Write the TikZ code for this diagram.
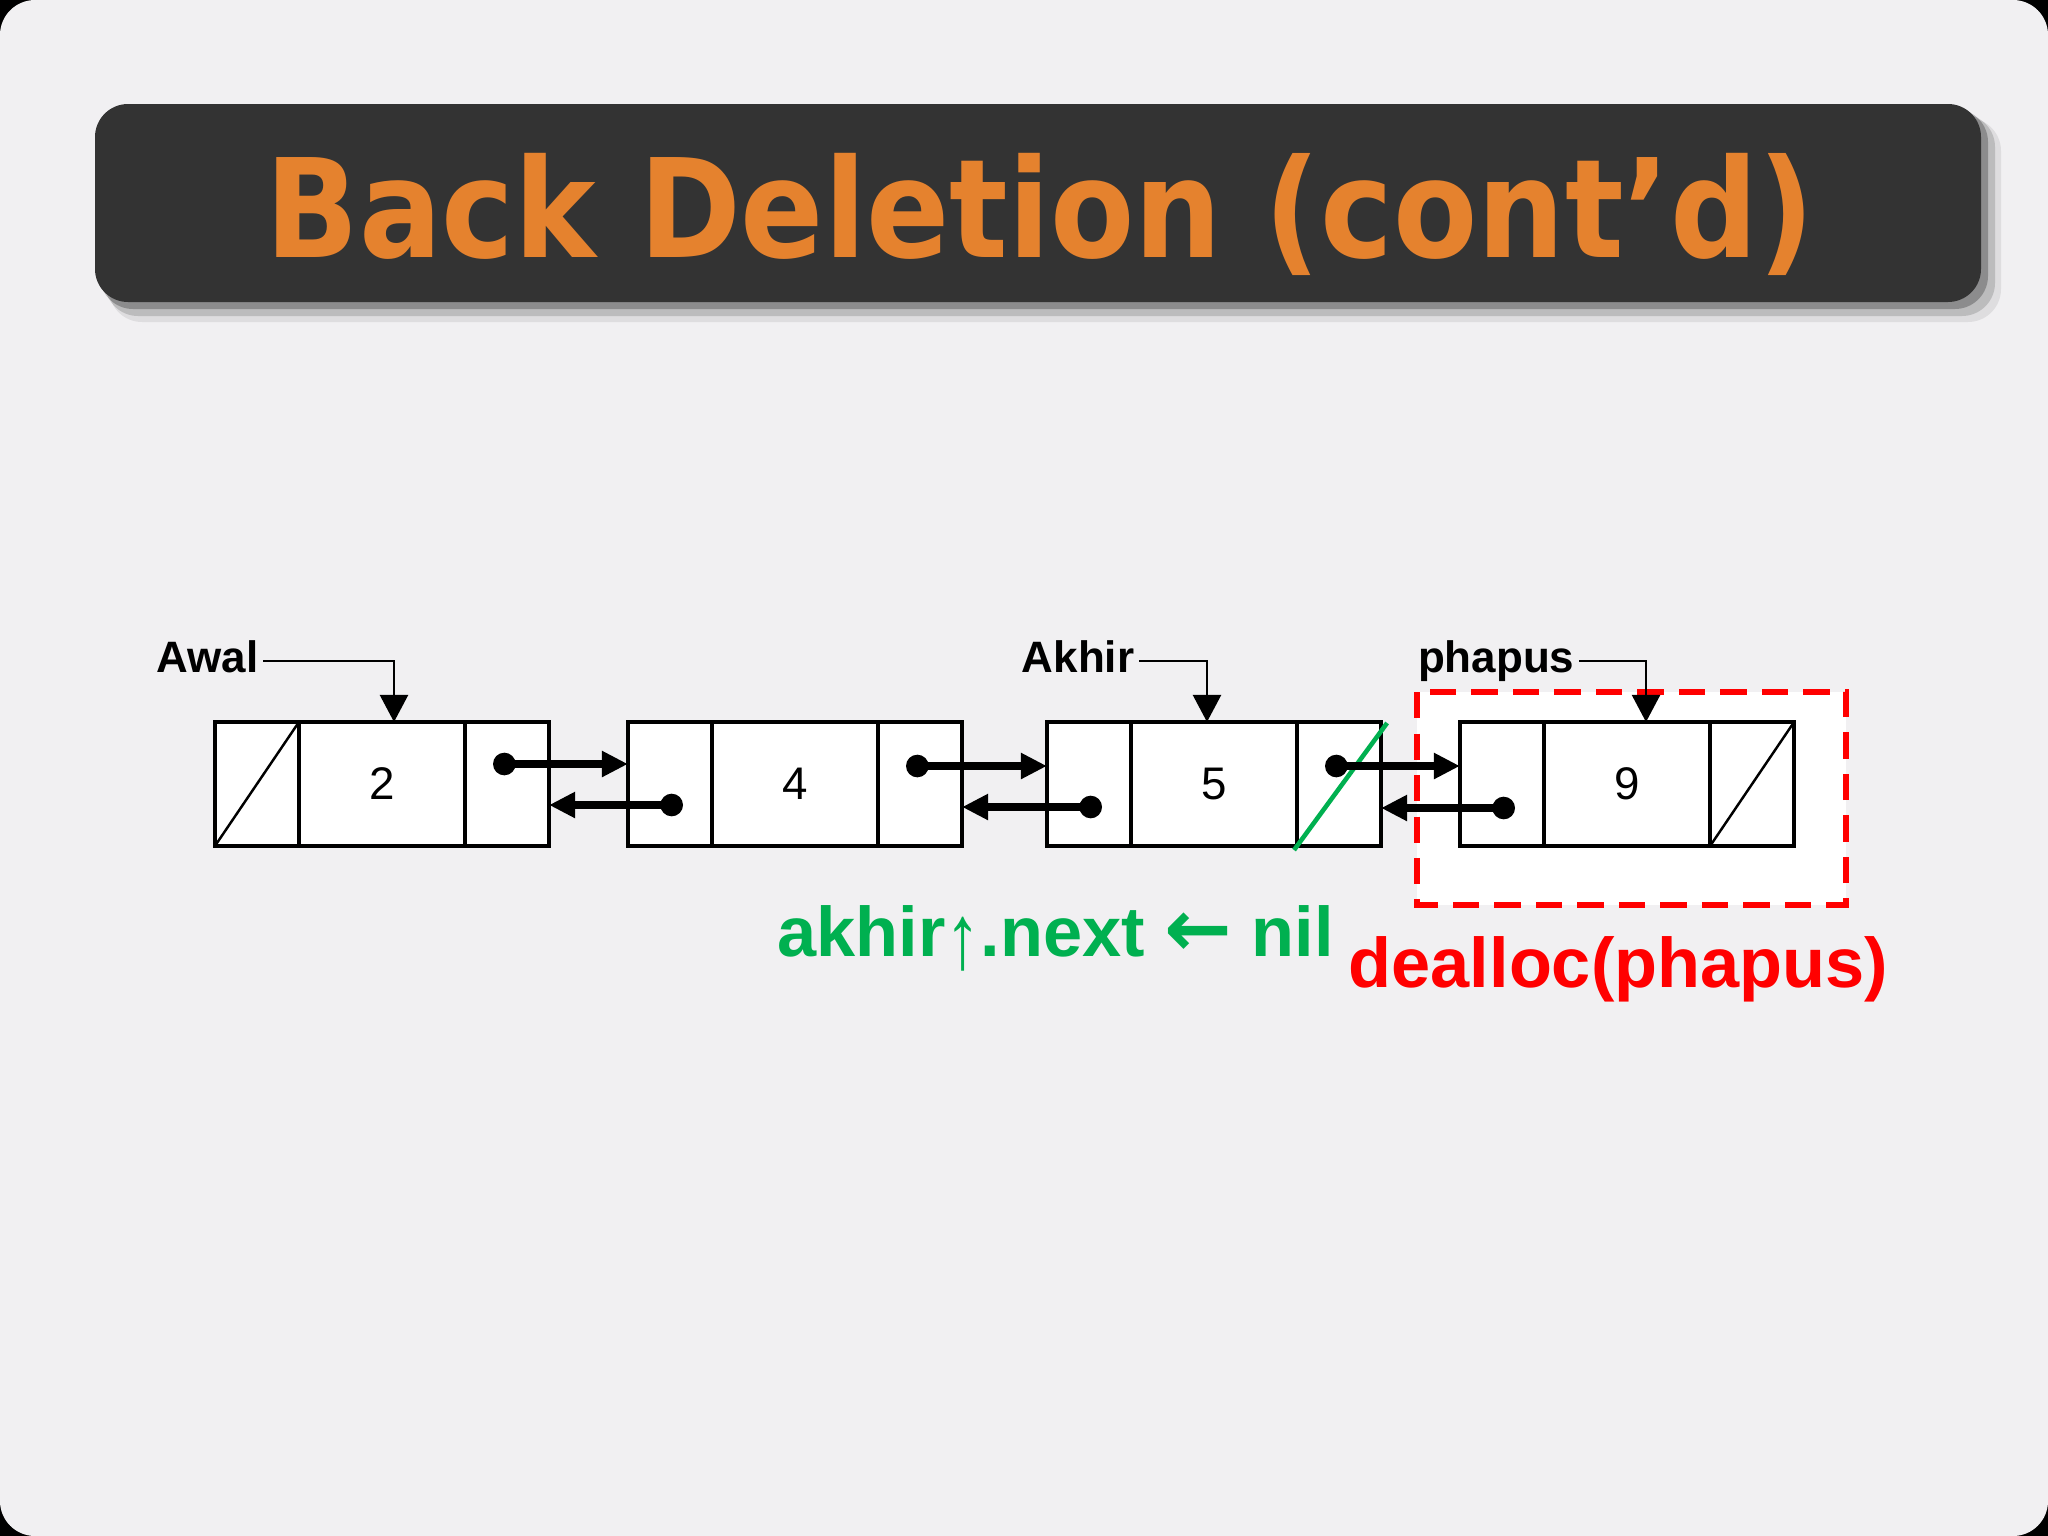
\documentclass[tikz,border=0pt]{standalone}
\usepackage{fontspec}
\setmainfont{Liberation Sans}
\newfontfamily\titlefont{DejaVu Sans}
\usetikzlibrary{positioning,arrows.meta}
\definecolor{slidebg}{HTML}{F1F0F2}
\definecolor{barcol}{HTML}{333333}
\definecolor{titleor}{HTML}{E5822E}
\definecolor{nilgreen}{HTML}{00B050}
\definecolor{freered}{HTML}{FF0000}
\tikzset{
  cell/.style={draw, fill=white, line width=0.95pt, inner sep=0pt, outer sep=0pt,
    minimum height=1.24cm, font=\fontsize{13}{13}\selectfont},
  ptrcell/.style={cell, minimum width=0.84cm},
  datacell/.style={cell, minimum width=1.66cm},
  tag/.style={font=\fontsize{12.5}{12.5}\selectfont\bfseries, inner sep=0.04cm,
    text height=6.8pt, text depth=0pt},
  tagline/.style={line width=0.6pt, -{Triangle[length=7.7pt,width=8pt]}},
  ptr/.style={line width=2pt, {Circle[length=6.4pt]}-{Triangle[length=7.4pt,width=7pt]}},
  stmt/.style={font=\fontsize{20}{24}\selectfont\bfseries, inner sep=0pt},
}
\begin{document}
\begin{tikzpicture}[x=0.01cm,y=-0.01cm]
	\useasboundingbox (0,0) rectangle (2048,1536);
	% slide
	\fill[black] (0,0) rectangle (2048,1536);
	\fill[slidebg, rounded corners=0.35cm] (0,0) rectangle (2048,1536);
	% title bar with its shadow
	\fill[black, opacity=0.08, rounded corners=0.33cm] (109,118) rectangle (2001,322);
	\fill[black, opacity=0.15, rounded corners=0.33cm] (105,114) rectangle (1995,316);
	\fill[black, opacity=0.25, rounded corners=0.33cm] (100,109) rectangle (1988,309);
	\fill[barcol, rounded corners=0.33cm] (95,104) rectangle (1981,302);
	\node[anchor=base, inner sep=0pt, text=titleor] (title) at (1040,257)
	    {\scalebox{0.895}[1]{\titlefont\bfseries\fontsize{39}{40}\selectfont Back Deletion (cont’d)}};
	% node to be freed
	\draw[freered, fill=white, line width=1.7pt, dash pattern=on 7.5pt off 4.3pt] (1417,692) rectangle (1846,905);
	% list nodes
	\node[datacell] (n1) at (382,784) {2};
	\node[ptrcell, left=0pt of n1] (n1prev) {};
	\node[ptrcell, right=0pt of n1] (n1next) {};
	\node[datacell] (n2) at (795,784) {4};
	\node[ptrcell, left=0pt of n2] (n2prev) {};
	\node[ptrcell, right=0pt of n2] (n2next) {};
	\node[datacell] (n3) at (1214,784) {5};
	\node[ptrcell, left=0pt of n3] (n3prev) {};
	\node[ptrcell, right=0pt of n3] (n3next) {};
	\node[datacell] (n4) at (1627,784) {9};
	\node[ptrcell, left=0pt of n4] (n4prev) {};
	\node[ptrcell, right=0pt of n4] (n4next) {};
	% nil slashes
	\draw[line width=0.7pt] (n1prev.south west) -- (n1prev.north east);
	\draw[line width=0.7pt] (n4next.south west) -- (n4next.north east);
	\draw[nilgreen, line width=1.3pt] ([shift={(-3,4)}]n3next.south west) -- ([shift={(6,1)}]n3next.north east);
	% links
	\draw[ptr] ([shift={(-14,-20)}]n1next.center) -- ([shift={(0,-20)}]n2prev.west);
	\draw[ptr] ([shift={(13,21)}]n2prev.center) -- ([shift={(0,21)}]n1next.east);
	\draw[ptr] ([shift={(-14,-18)}]n2next.center) -- ([shift={(0,-18)}]n3prev.west);
	\draw[ptr] ([shift={(13,23)}]n3prev.center) -- ([shift={(0,23)}]n2next.east);
	\draw[ptr] ([shift={(-14,-18)}]n3next.center) -- ([shift={(0,-18)}]n4prev.west);
	\draw[ptr] ([shift={(13,24)}]n4prev.center) -- ([shift={(0,24)}]n3next.east);
	% pointer names
	\node[tag, anchor=east] (awal) at (263,661) {Awal};
	\node[tag, anchor=east] (akhir) at (1139,661) {Akhir};
	\node[tag, anchor=east] (phapus) at (1579,661) {phapus};
	\draw[tagline] (awal.east) -| ([xshift=0.12cm]n1.north);
	\draw[tagline] (akhir.east) -| ([xshift=-0.07cm]n3.north);
	\draw[tagline] (phapus.east) -| ([xshift=0.19cm]n4.north);
	% statements
	\node[stmt, anchor=base west, text=nilgreen] (setnil) at (777,956)
	    {akhir{\mdseries\raisebox{-0.18em}{\scalebox{1}[1.3]{↑}}}.next {\titlefont\scalebox{1.15}{←}} nil};
	\node[stmt, anchor=base west, text=freered] (free) at (1348,987) {dealloc(phapus)};
\end{tikzpicture}
\end{document}
